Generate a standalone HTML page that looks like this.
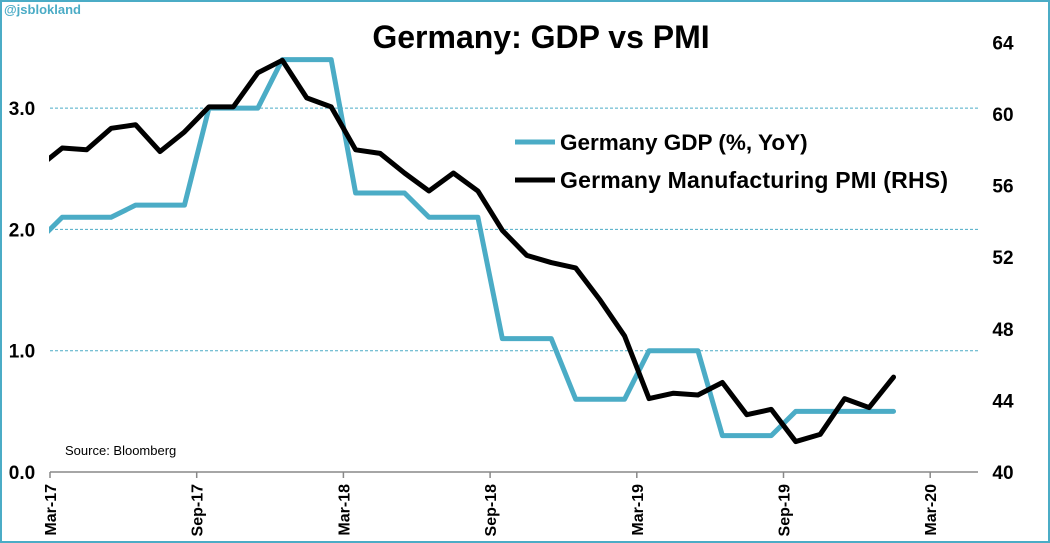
<!DOCTYPE html>
<html><head><meta charset="utf-8"><style>
body{margin:0;background:#fff;}
svg{display:block;font-family:"Liberation Sans",sans-serif;}
</style></head><body>
<svg id="chart" width="1050" height="543" viewBox="0 0 1050 543">
<rect x="1" y="1" width="1048" height="541" fill="#fff" stroke="#4bacc6" stroke-width="2"/>
<text x="4" y="14" font-size="13" font-weight="bold" fill="#4bacc6">@jsblokland</text>
<text x="541" y="48" font-size="32" font-weight="bold" text-anchor="middle" fill="#000">Germany: GDP vs PMI</text>
<text x="65" y="455" font-size="13" fill="#000">Source:  Bloomberg</text>
<g id="grid"></g><g id="axes"></g>
<defs><clipPath id="pc"><rect x="49" y="30" width="930" height="450"/></clipPath></defs>
<g id="series" clip-path="url(#pc)"></g>
<g>
<line x1="515" y1="142" x2="555" y2="142" stroke="#4bacc6" stroke-width="5"/>
<text x="560" y="150" font-size="22.5" font-weight="bold">Germany GDP (%, YoY)</text>
<line x1="515" y1="180" x2="555" y2="180" stroke="#000" stroke-width="5"/>
<text x="560" y="188" font-size="23" font-weight="bold" textLength="388">Germany Manufacturing PMI (RHS)</text>
</g>
</svg>
<script>
const months = ["Feb-17","Mar-17","Apr-17","May-17","Jun-17","Jul-17","Aug-17","Sep-17","Oct-17","Nov-17","Dec-17","Jan-18","Feb-18","Mar-18","Apr-18","May-18","Jun-18","Jul-18","Aug-18","Sep-18","Oct-18","Nov-18","Dec-18","Jan-19","Feb-19","Mar-19","Apr-19","May-19","Jun-19","Jul-19","Aug-19","Sep-19","Oct-19","Nov-19","Dec-19","Jan-20"];
const gdp = [1.9,2.1,2.1,2.1,2.2,2.2,2.2,3.0,3.0,3.0,3.4,3.4,3.4,2.3,2.3,2.3,2.1,2.1,2.1,1.1,1.1,1.1,0.6,0.6,0.6,1.0,1.0,1.0,0.3,0.3,0.3,0.5,0.5,0.5,0.5,0.5];
const pmi = [57.0,58.1,58.0,59.2,59.4,57.9,59.0,60.4,60.4,62.3,63.0,60.9,60.4,58.0,57.8,56.7,55.7,56.7,55.7,53.5,52.1,51.7,51.4,49.6,47.6,44.1,44.4,44.3,45.0,43.2,43.5,41.7,42.1,44.1,43.6,45.3];
const xTickLabels = ["Mar-17","Sep-17","Mar-18","Sep-18","Mar-19","Sep-19","Mar-20"];
const leftTicks = [0,1,2,3];
const rightTicks = [40,44,48,52,56,60,64];

const NS="http://www.w3.org/2000/svg";
const x0=50, mw=24.45, yBase=472;
const xMonth = i => x0 + mw*(i-1) + mw/2;
const yL = v => yBase - v*121.3;
const yR = v => yBase - (v-40)*17.9;
function mk(tag, attrs, parent){const e=document.createElementNS(NS,tag);for(const k in attrs)e.setAttribute(k,attrs[k]);parent.appendChild(e);return e;}
const grid=document.getElementById('grid'), axes=document.getElementById('axes'), series=document.getElementById('series');

leftTicks.forEach(v=>{
  if(v>0){const g=mk('line',{x1:50,x2:978,y1:yL(v),y2:yL(v),stroke:'#4bacc6','stroke-width':1,'stroke-dasharray':'3,2'},grid);
  
  }
  const t=mk('text',{x:22,y:yL(v)+7,'font-size':19,'font-weight':'bold','text-anchor':'middle'},axes);
  t.textContent=v.toFixed(1);
  
  
});
rightTicks.forEach(v=>{
  const t=mk('text',{x:1003,y:yR(v)+7,'font-size':19,'font-weight':'bold','text-anchor':'middle'},axes);
  t.textContent=v;
  
  
});
const ax=mk('line',{x1:50,x2:978,y1:yBase,y2:yBase,stroke:'#888','stroke-width':1.5},axes);


xTickLabels.forEach((lab,k)=>{
  const x=x0+k*6*mw;
  const tk=mk('line',{x1:x,x2:x,y1:yBase,y2:yBase+6,stroke:'#888','stroke-width':1.5},axes);
  
  
  const t=mk('text',{x:0,y:0,'font-size':16,'font-weight':'bold','text-anchor':'end',transform:`translate(${x+6},${yBase+12}) rotate(-90)`},axes);
  t.textContent=lab;
  
  
});
const gp=mk('polyline',{points:gdp.map((v,i)=>xMonth(i)+','+yL(v)).join(' '),fill:'none',stroke:'#4bacc6','stroke-width':5,'stroke-linejoin':'round','stroke-linecap':'round'},series);


const pp=mk('polyline',{points:pmi.map((v,i)=>xMonth(i)+','+yR(v)).join(' '),fill:'none',stroke:'#000','stroke-width':5,'stroke-linejoin':'round','stroke-linecap':'round'},series);


</script>
</body></html>
